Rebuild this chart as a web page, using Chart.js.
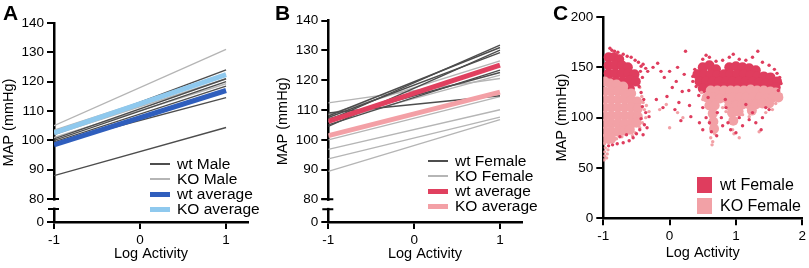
<!DOCTYPE html>
<html lang="en">
<head>
<meta charset="UTF-8">
<title>MAP vs Log Activity</title>
<script src="https://cdn.jsdelivr.net/npm/chart.js"></script>
<style>
  body { margin: 0; background: #fff; font-family: "Liberation Sans", Arial, sans-serif; color: #000; }
  #wrap { position: relative; width: 809px; height: 268px; overflow: hidden; }
  .panel { position: absolute; top: 0; height: 268px; }
  .panel canvas { position: absolute; left: 0; top: 0; }
  .letter { position: absolute; left: 3px; top: 2px; font-weight: bold; font-size: 21px; line-height: 21px; }
  .legend { position: absolute; font-size: 15.5px; white-space: nowrap; }
  .legend .row { display: flex; align-items: center; height: 15px; }
  .legend .sw { display: inline-block; width: 20px; margin-right: 7px; }
  .legend.sq .row { height: 20.5px; }
  .legend.sq .sw { width: 15px; height: 16px; margin-right: 8px; }
  .legend.sq { font-size: 16px; }
</style>
</head>
<body>
<div id="wrap">
  <div class="panel" style="left:0;width:270px">
    <canvas id="chartA" width="270" height="268"></canvas>
    <div class="letter">A</div>
    <div class="legend" style="left:150px;top:156.5px">
      <div class="row"><span class="sw" style="height:1.5px;background:#4d4d4d"></span>wt Male</div>
      <div class="row"><span class="sw" style="height:1.5px;background:#b5b5b5"></span>KO Male</div>
      <div class="row"><span class="sw" style="height:5px;background:#2f5ebd"></span>wt average</div>
      <div class="row"><span class="sw" style="height:5px;background:#8fc9ee"></span>KO average</div>
    </div>
  </div>
  <div class="panel" style="left:270px;width:270px">
    <canvas id="chartB" width="270" height="268"></canvas>
    <div class="letter" style="left:5px">B</div>
    <div class="legend" style="left:158px;top:153.5px">
      <div class="row"><span class="sw" style="height:1.5px;background:#4d4d4d"></span>wt Female</div>
      <div class="row"><span class="sw" style="height:1.5px;background:#b5b5b5"></span>KO Female</div>
      <div class="row"><span class="sw" style="height:5px;background:#e0405f"></span>wt average</div>
      <div class="row"><span class="sw" style="height:5px;background:#f3a0a6"></span>KO average</div>
    </div>
  </div>
  <div class="panel" style="left:540px;width:269px">
    <canvas id="chartC" width="269" height="268"></canvas>
    <div class="letter" style="left:13px">C</div>
    <div class="legend sq" style="left:157px;top:175px">
      <div class="row"><span class="sw" style="background:#df3d5e"></span>wt Female</div>
      <div class="row"><span class="sw" style="background:#f2a1a6"></span>KO Female</div>
    </div>
  </div>
</div>

<script>
  // ---- data ----
  const xEnds = [-1, 1];
  const xTicksAB = [-1, 0, 1];
  const yTicksAB = [80, 90, 100, 110, 120, 130, 140];
  const xTicksC = [-1, 0, 1, 2];
  const yTicksC = [0, 50, 100, 150, 200];

  // panel A (male): MAP at log activity -1 and +1
  const wtMaleStart = [102, 100.5, 100, 99.5, 99, 88];
  const wtMaleEnd   = [124, 121, 120, 118.5, 114.6, 104.4];
  const koMaleStart = [105, 103.5, 101, 102];
  const koMaleEnd   = [131, 122.5, 119.3, 121];
  const wtMaleAvg = [98.5, 117];
  const koMaleAvg = [102.6, 122.4];

  // panel B (female)
  const wtFemaleStart = [106.5, 108, 104.5, 107.5, 105, 107, 109];
  const wtFemaleEnd   = [131.8, 131, 130.1, 129.3, 123.4, 122.6, 114.8];
  const koFemaleStart = [112.4, 108.5, 106, 100, 96.8, 93.6, 89.4];
  const koFemaleEnd   = [120.6, 126.5, 121.7, 114.5, 110.1, 107.6, 106.8];
  const wtFemaleAvg = [106.2, 125.1];
  const koFemaleAvg = [101.4, 116];

  // panel C (female scatter), [log activity, MAP]
  const wtFemaleDense = [
    [-0.92,160],[-0.84,160],[-0.76,158],
    [-0.92,152],[-0.82,152],[-0.72,152],[-0.63,150],
    [-0.92,144],[-0.82,144],[-0.72,144],[-0.62,144],[-0.53,143],
    [-0.90,136],[-0.80,136],[-0.70,136],[-0.60,137],[-0.51,136],
    [-0.85,129],[-0.72,129],[-0.60,129],
    [0.50,150],[0.60,152],[0.70,148],[0.90,150],[1.00,151],[1.10,150],[1.20,149],[1.30,147],
    [0.42,143],[0.52,143],[0.62,143],[0.72,142],[0.82,143],[0.92,143],[1.02,143],[1.12,143],[1.22,142],[1.32,141],[1.42,141],[1.52,140],
    [0.45,136],[0.55,136],[0.65,136],[0.75,136],[0.85,136],[0.95,136],[1.05,136],[1.15,136],[1.25,136],[1.35,135],[1.45,134],[1.55,134],[1.62,136],
    [0.5,129],[0.6,129],[0.7,129],[0.8,130],[0.9,129],[1.0,129],[1.1,129],[1.2,130],[1.3,129],[1.4,128],[1.5,128],[1.6,130]
  ];
  const koFemaleDense = [
    [-0.98,136],[-0.9,134],[-0.8,133],[-0.7,131],
    [-0.98,126],[-0.88,126],[-0.78,126],[-0.68,125],[-0.58,124],
    [-0.98,118],[-0.88,118],[-0.78,118],[-0.68,118],[-0.58,117],[-0.49,116],
    [-0.98,110],[-0.88,110],[-0.78,110],[-0.68,110],[-0.58,110],[-0.48,109],
    [-0.98,102],[-0.88,102],[-0.78,102],[-0.68,102],[-0.58,102],[-0.48,101],
    [-0.98,94],[-0.88,94],[-0.78,94],[-0.68,94],[-0.58,94],[-0.50,95],
    [-0.98,86],[-0.88,86],[-0.78,86],[-0.68,87],[-0.60,88],
    [-0.97,79],[-0.88,79],
    [0.62,127],[0.72,127],[0.82,127],[0.92,127],[1.02,127],[1.12,127],[1.22,128],[1.32,127],[1.42,127],[1.52,126],[1.6,125],
    [0.56,120],[0.66,120],[0.76,119],[0.86,119],[0.96,120],[1.06,120],[1.16,120],[1.26,120],[1.36,120],[1.46,119],[1.56,120],[1.64,120],
    [0.6,112],[0.68,112],[0.9,112],[1.0,112],[1.1,113],[1.2,113],[1.3,113],[1.4,114],[1.5,114],
    [0.65,104],[0.94,105],[1.04,106],[1.24,107],
    [0.66,96],[0.96,97],
    [0.67,89]
  ];
  const wtFemaleSparse = [
    [-0.9,169],[-0.87,167],[-0.83,166],[-0.78,165],[-0.7,163],[-0.64,161],[-0.58,160],[-0.52,157],[-0.47,155],
    [-0.43,151],[-0.4,153],[-0.36,149],[-0.33,146],[-0.44,146],[-0.41,140],[-0.46,131],[-0.43,125],[-0.39,118],
    [-0.41,111],[-0.36,105],[-0.43,99],[-0.38,93],[-0.45,88],[-0.5,84],[-0.31,101],[-0.55,80],[-0.61,77],
    [-0.7,75],[-0.79,74],[-0.86,73],[-0.92,72],[-0.75,81],[-0.65,83],[-0.4,83],[-0.34,90],
    [-0.25,150],[-0.18,154],[-0.13,146],[-0.08,140],[0.0,146],[0.04,130],[0.1,136],[0.14,115],[0.19,126],
    [0.24,166],[0.29,127],[0.32,101],[0.35,136],[-0.2,118],[-0.1,110],[0.08,108],[0.3,112],[0.17,97],
    [0.22,143],[-0.04,121],[0.12,150],
    [0.5,158],[0.55,162],[0.6,160],[0.7,156],[0.8,157],[0.9,160],[0.96,163],[1.05,158],[1.15,157],[1.25,160],
    [1.33,166],[1.4,155],[1.5,152],[1.58,148],[1.62,144],[1.66,140],[1.68,134],[1.64,127],[0.38,148],[0.35,141],
    [0.4,131],[0.44,122],[0.5,110],[0.55,100],[0.6,95],[0.63,86],[0.71,82],[0.72,105],[0.78,100],[0.8,92],
    [0.85,110],[0.88,95],[0.92,88],[1.0,85],[1.05,100],[1.1,92],[1.2,98],[1.25,105],[1.3,95],[1.4,100],
    [1.45,110],[1.5,108],[0.45,95],[0.5,88],[1.38,88],[0.58,120],[0.84,118],[1.15,113]
  ];
  const koFemaleSparse = [
    [-0.45,130],[-0.42,121],[-0.4,115],[-0.38,108],[-0.36,100],[-0.41,95],[-0.45,90],[-0.52,85],[-0.56,82],
    [-0.35,112],[-0.31,106],[-0.99,58],[-0.98,62],[-0.98,66],[-0.97,70],[-0.98,74],[-0.94,64],[-0.93,68],
    [-0.92,75],[-0.95,60],[-0.8,79],[-0.72,81],
    [-0.15,108],[0.0,90],[0.12,105],[-0.05,113],[0.2,100],
    [0.62,80],[0.65,76],[0.68,84],[0.95,88],[0.97,84],[1.05,80],[1.35,86],[1.6,114],[1.66,118],[1.68,123],
    [1.55,108],[1.45,105],[0.5,118],[0.48,125],[1.1,103],[1.2,101],[0.8,110],[0.85,106],[0.64,73]
  ];

  Chart.defaults.font.family = "'Liberation Sans', Arial, sans-serif";
  Chart.defaults.color = '#000';

  // draws the little gap in the y axis under 80
  const axisBreak = {
    id: 'axisBreak',
    afterDraw(chart, args, opts) {
      if (!opts.at) return;
      const ctx = chart.ctx;
      const x0 = chart.chartArea.left;
      const top = chart.scales.y.getPixelForValue(opts.at);
      const bot = top + 10;
      ctx.save();
      ctx.fillStyle = '#fff';
      ctx.fillRect(x0 - 3, top + 1.5, 6, bot - top - 3);
      ctx.strokeStyle = '#000';
      ctx.lineWidth = 2;
      ctx.beginPath();
      ctx.moveTo(x0 - 7, top); ctx.lineTo(x0 + 5, top);
      ctx.moveTo(x0 - 6, bot); ctx.lineTo(x0 + 5, bot);
      ctx.stroke();
      ctx.restore();
    }
  };

  function seg(a, b) {
    return [{x: xEnds[0], y: a}, {x: xEnds[1], y: b}];
  }

  function lineSet(a, b, color, width) {
    return { data: seg(a, b), borderColor: color, borderWidth: width, showLine: true, pointRadius: 0, fill: false };
  }

  function tickList(list) {
    return s => { s.ticks = list.map(v => ({value: v})); };
  }

  function axisStyle() {
    return {
      grid: { drawOnChartArea: false, color: '#000', lineWidth: 2, tickLength: 7 },
      border: { color: '#000', width: 2.5 }
    };
  }

  function lineChart(id, datasets, yMin, xMax, yWidth, pad) {
    new Chart(document.getElementById(id), {
      type: 'scatter',
      data: { datasets: datasets },
      plugins: [axisBreak],
      options: {
        responsive: false,
        animation: false,
        devicePixelRatio: 1,
        layout: { padding: pad },
        plugins: { legend: { display: false }, tooltip: { enabled: false }, axisBreak: { at: 80 } },
        scales: {
          x: Object.assign({
            type: 'linear', min: -1, max: xMax,
            afterBuildTicks: tickList(xTicksAB),
            afterFit: s => { s.height = 46; },
            ticks: { font: { size: 13.5 }, padding: 3 },
            title: { display: true, text: 'Log Activity', font: { size: 14.5 }, padding: { top: 0, bottom: 5 } }
          }, axisStyle()),
          y: Object.assign({
            min: yMin, max: 140,
            afterBuildTicks: tickList([yMin].concat(yTicksAB)),
            afterFit: s => { s.width = yWidth; },
            ticks: { font: { size: 13.5 }, padding: 3, callback: v => v < 80 ? '0' : v },
            title: { display: true, text: 'MAP (mmHg)', font: { size: 14.5 }, padding: { top: 0, bottom: 0 } }
          }, axisStyle())
        }
      }
    });
  }

  // A
  const setsA = [
    lineSet(koMaleAvg[0], koMaleAvg[1], '#8fc9ee', 5),
    lineSet(wtMaleAvg[0], wtMaleAvg[1], '#2f5ebd', 5)
  ];
  wtMaleStart.forEach((v, i) => setsA.push(lineSet(v, wtMaleEnd[i], '#4d4d4d', 1.4)));
  koMaleStart.forEach((v, i) => setsA.push(lineSet(v, koMaleEnd[i], '#b5b5b5', 1.4)));
  lineChart('chartA', setsA, 72.2, 1.255, 54, { left: 0, top: 23, right: 22, bottom: 0 });

  // B
  const setsB = [
    lineSet(wtFemaleAvg[0], wtFemaleAvg[1], '#e0405f', 5),
    lineSet(koFemaleAvg[0], koFemaleAvg[1], '#f3a0a6', 5)
  ];
  wtFemaleStart.forEach((v, i) => setsB.push(lineSet(v, wtFemaleEnd[i], '#4d4d4d', 1.4)));
  koFemaleStart.forEach((v, i) => setsB.push(lineSet(v, koFemaleEnd[i], '#b5b5b5', 1.4)));
  lineChart('chartB', setsB, 72.4, 1.253, 54.3, { left: 4, top: 20.7, right: 18.3, bottom: 0 });

  // C
  const pts = list => list.map(p => ({x: p[0], y: p[1]}));
  new Chart(document.getElementById('chartC'), {
    type: 'scatter',
    data: {
      datasets: [
        { label: 'wt Female', data: pts(wtFemaleSparse), backgroundColor: '#df3d5e', pointRadius: 1.7, borderWidth: 0 },
        { label: 'KO Female', data: pts(koFemaleSparse), backgroundColor: '#f2a1a6', pointRadius: 1.7, borderWidth: 0 },
        { label: 'KO Female', data: pts(koFemaleDense), backgroundColor: '#f2a1a6', pointRadius: 5, borderWidth: 0 },
        { label: 'wt Female', data: pts(wtFemaleDense), backgroundColor: '#df3d5e', pointRadius: 5, borderWidth: 0 }
      ]
    },
    options: {
      responsive: false,
      animation: false,
      devicePixelRatio: 1,
      layout: { padding: { left: 13, top: 17, right: 4, bottom: 0 } },
      plugins: { legend: { display: false }, tooltip: { enabled: false } },
      scales: {
        x: Object.assign({
          type: 'linear', min: -1, max: 2,
          afterBuildTicks: tickList(xTicksC),
          afterFit: s => { s.height = 49.7; },
          ticks: { font: { size: 13.5 }, padding: 3 },
          title: { display: true, text: 'Log Activity', font: { size: 14.5 }, padding: { top: 0, bottom: 6 } }
        }, axisStyle()),
        y: Object.assign({
          min: 0, max: 200,
          afterBuildTicks: tickList(yTicksC),
          afterFit: s => { s.width = 50.3; },
          ticks: { font: { size: 13.5 }, padding: 3 },
          title: { display: true, text: 'MAP (mmHg)', font: { size: 14.5 }, padding: { top: 0, bottom: 0 } }
        }, axisStyle())
      }
    }
  });
</script>
</body>
</html>
